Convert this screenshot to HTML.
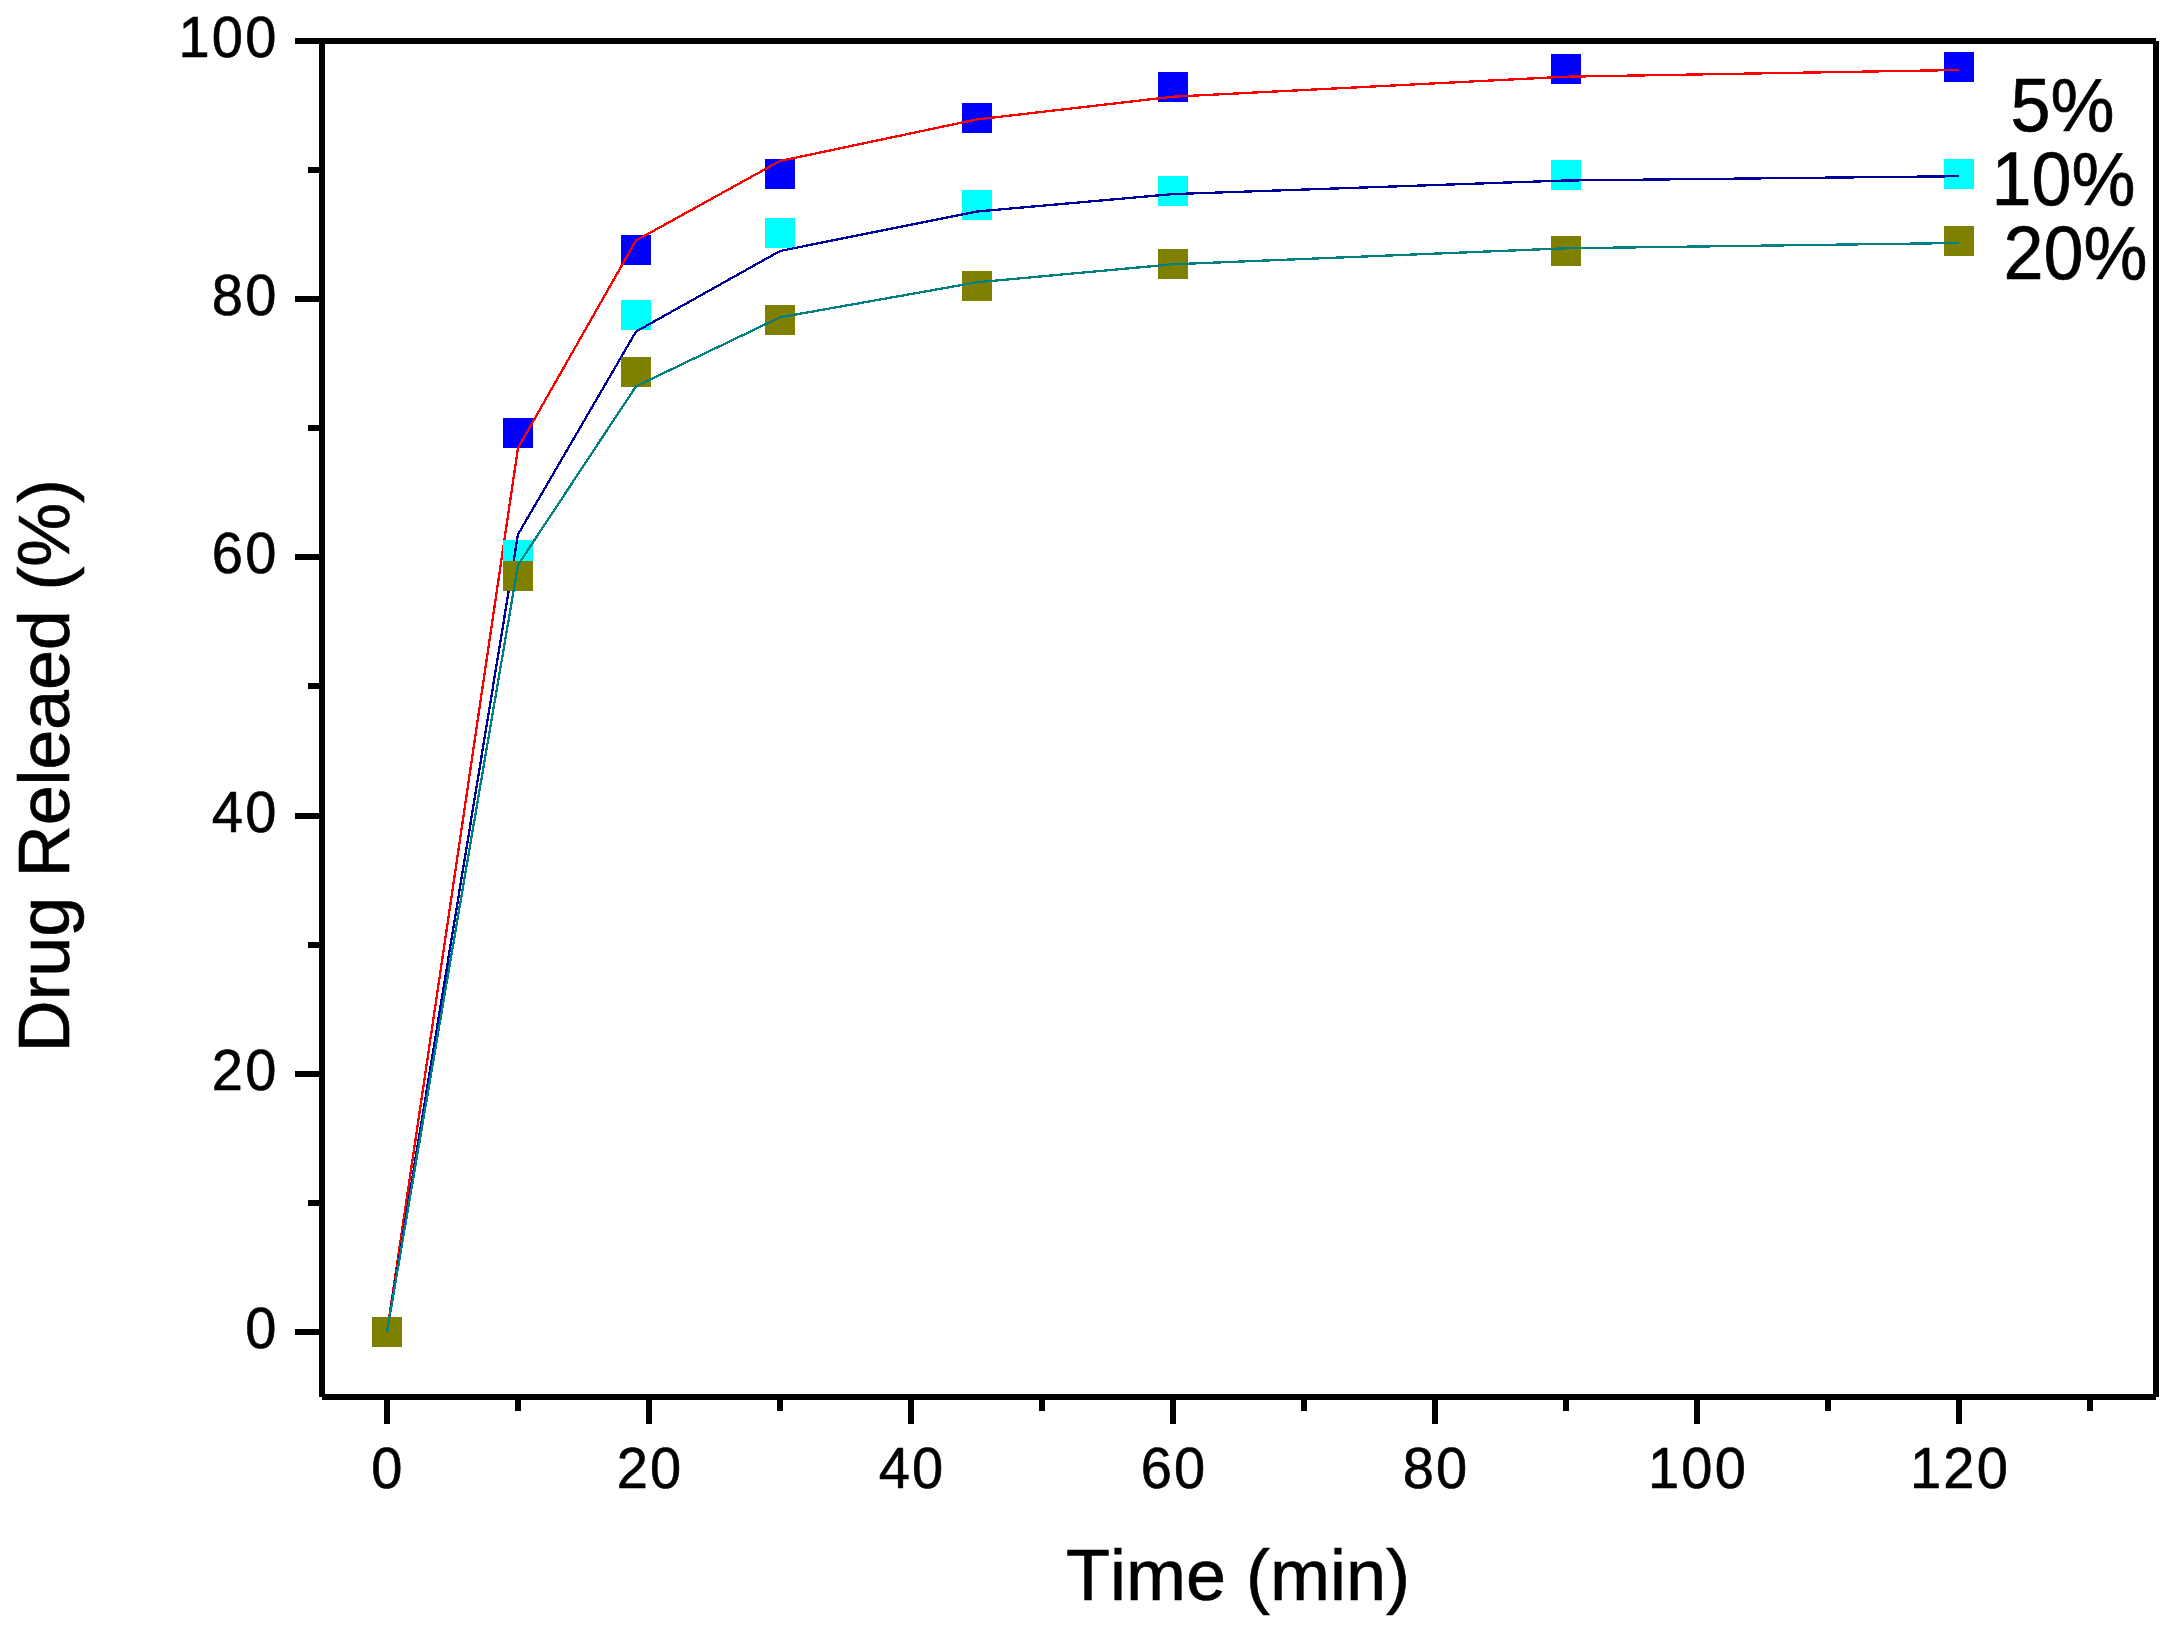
<!DOCTYPE html>
<html lang="en">
<head>
<meta charset="utf-8">
<title>Drug Released (%) vs Time (min)</title>
<style>
html,body{margin:0;padding:0;background:#fff;}
body{width:2174px;height:1629px;overflow:hidden;}
svg{display:block;}
text{font-family:"Liberation Sans",Arial,Helvetica,sans-serif;fill:#000;stroke:#000;stroke-width:0.6px;font-kerning:none;font-variant-ligatures:none;}
.tick{font-size:56px;letter-spacing:2.2px;}
.title{font-size:72px;}
.leg{font-size:72px;}
</style>
</head>
<body>
<svg width="2174" height="1629" viewBox="0 0 2174 1629">
<rect x="0" y="0" width="2174" height="1629" fill="#ffffff"/>

<g shape-rendering="crispEdges" fill="#000">
<rect x="319" y="38" width="1837" height="6"/>
<rect x="319" y="38" width="6" height="1359"/>
<rect x="322" y="1394" width="1834" height="6"/>
<rect x="2153" y="41" width="6" height="1356"/>
<rect x="295" y="1329" width="24" height="6"/>
<rect x="308" y="1200" width="11" height="6"/>
<rect x="295" y="1071" width="24" height="6"/>
<rect x="308" y="942" width="11" height="6"/>
<rect x="295" y="813" width="24" height="6"/>
<rect x="308" y="683" width="11" height="6"/>
<rect x="295" y="554" width="24" height="6"/>
<rect x="308" y="425" width="11" height="6"/>
<rect x="295" y="296" width="24" height="6"/>
<rect x="308" y="167" width="11" height="6"/>
<rect x="295" y="38" width="24" height="6"/>
<rect x="384" y="1400" width="6" height="24"/>
<rect x="515" y="1400" width="6" height="11"/>
<rect x="646" y="1400" width="6" height="24"/>
<rect x="777" y="1400" width="6" height="11"/>
<rect x="908" y="1400" width="6" height="24"/>
<rect x="1039" y="1400" width="6" height="11"/>
<rect x="1170" y="1400" width="6" height="24"/>
<rect x="1301" y="1400" width="6" height="11"/>
<rect x="1432" y="1400" width="6" height="24"/>
<rect x="1563" y="1400" width="6" height="11"/>
<rect x="1694" y="1400" width="6" height="24"/>
<rect x="1825" y="1400" width="6" height="11"/>
<rect x="1956" y="1400" width="6" height="24"/>
<rect x="2087" y="1400" width="6" height="11"/>
</g>
<g class="tick">
<text transform="translate(278.5,1348.1) scale(1,1.01)" text-anchor="end">0</text>
<text transform="translate(278.5,1090.1) scale(1,1.01)" text-anchor="end">20</text>
<text transform="translate(278.5,832.1) scale(1,1.01)" text-anchor="end">40</text>
<text transform="translate(278.5,573.1) scale(1,1.01)" text-anchor="end">60</text>
<text transform="translate(278.5,315.1) scale(1,1.01)" text-anchor="end">80</text>
<text transform="translate(278.5,57.1) scale(1,1.01)" text-anchor="end">100</text>
<text transform="translate(388,1487.7) scale(1,1.01)" text-anchor="middle">0</text>
<text transform="translate(650,1487.7) scale(1,1.01)" text-anchor="middle">20</text>
<text transform="translate(912,1487.7) scale(1,1.01)" text-anchor="middle">40</text>
<text transform="translate(1174,1487.7) scale(1,1.01)" text-anchor="middle">60</text>
<text transform="translate(1436,1487.7) scale(1,1.01)" text-anchor="middle">80</text>
<text transform="translate(1698,1487.7) scale(1,1.01)" text-anchor="middle">100</text>
<text transform="translate(1960,1487.7) scale(1,1.01)" text-anchor="middle">120</text>
</g>
<g shape-rendering="crispEdges">
<rect x="372" y="1317" width="30" height="30" fill="#0000ff"/>
<rect x="503" y="418" width="30" height="30" fill="#0000ff"/>
<rect x="621" y="235" width="30" height="30" fill="#0000ff"/>
<rect x="765" y="159" width="30" height="30" fill="#0000ff"/>
<rect x="962" y="103" width="30" height="30" fill="#0000ff"/>
<rect x="1158" y="72" width="30" height="30" fill="#0000ff"/>
<rect x="1551" y="54" width="30" height="30" fill="#0000ff"/>
<rect x="1944" y="52" width="30" height="30" fill="#0000ff"/>
<polyline points="387,1332 518,448 636,240.5 780,161 977,119.4 1173,96.7 1566,76.7 1959,70" fill="none" stroke="#ff0000" stroke-width="2.3" stroke-linejoin="round"/>
</g>
<g shape-rendering="crispEdges">
<rect x="372" y="1317" width="30" height="30" fill="#00ffff"/>
<rect x="503" y="540" width="30" height="30" fill="#00ffff"/>
<rect x="621" y="300" width="30" height="30" fill="#00ffff"/>
<rect x="765" y="218" width="30" height="30" fill="#00ffff"/>
<rect x="962" y="190" width="30" height="30" fill="#00ffff"/>
<rect x="1158" y="176" width="30" height="30" fill="#00ffff"/>
<rect x="1551" y="160" width="30" height="30" fill="#00ffff"/>
<rect x="1944" y="159" width="30" height="30" fill="#00ffff"/>
<polyline points="387,1332 518,534.4 636,331.6 780,251 977,211.5 1173,194.1 1566,180.5 1959,176.2" fill="none" stroke="#00009a" stroke-width="2.3" stroke-linejoin="round"/>
</g>
<g shape-rendering="crispEdges">
<rect x="372" y="1317" width="30" height="30" fill="#808000"/>
<rect x="503" y="561" width="30" height="30" fill="#808000"/>
<rect x="621" y="357" width="30" height="30" fill="#808000"/>
<rect x="765" y="305" width="30" height="30" fill="#808000"/>
<rect x="962" y="271" width="30" height="30" fill="#808000"/>
<rect x="1158" y="249" width="30" height="30" fill="#808000"/>
<rect x="1551" y="236" width="30" height="30" fill="#808000"/>
<rect x="1944" y="226" width="30" height="30" fill="#808000"/>
<polyline points="387,1332 518,565 636,386.3 780,317.3 977,282.3 1173,264.3 1566,248.3 1959,243" fill="none" stroke="#008080" stroke-width="2.3" stroke-linejoin="round"/>
</g>
<text class="leg" transform="translate(2010.5,131) scale(1,1.045)">5%</text>
<text class="leg" transform="translate(1991.5,205) scale(1,1.045)">10%</text>
<text class="leg" transform="translate(2003.5,278.5) scale(1,1.045)">20%</text>
<text class="title" x="1066" y="1600" style="letter-spacing:0px">Time (min)</text>
<text class="title" transform="translate(69.3,765.7) rotate(-90)" text-anchor="middle" style="letter-spacing:-0.2px">Drug Releaed (%)</text>
</svg>
</body>
</html>
